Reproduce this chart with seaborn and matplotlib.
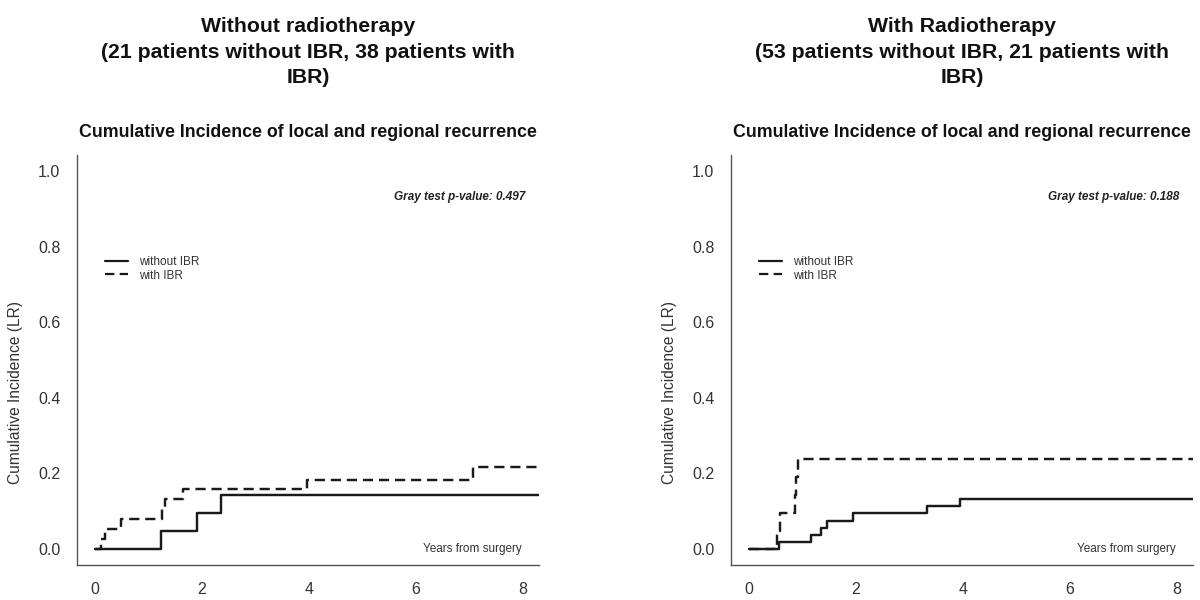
import pandas as pd
import matplotlib
matplotlib.use("Agg")
import matplotlib.pyplot as plt
import seaborn as sns

# step curves (time in years, cumulative incidence)
left_without_t = [0.0, 1.23, 1.90, 2.36, 8.31]
left_without_ci = [0.0, 0.0476, 0.0952, 0.1429, 0.1429]
left_with_t = [0.0, 0.12, 0.18, 0.49, 1.25, 1.31, 1.65, 3.96, 7.08, 8.31]
left_with_ci = [0.0, 0.026, 0.053, 0.079, 0.105, 0.132, 0.158, 0.184, 0.217, 0.217]

right_without_t = [0.0, 0.56, 1.16, 1.35, 1.46, 1.95, 3.33, 3.95, 8.31]
right_without_ci = [0.0, 0.019, 0.037, 0.056, 0.075, 0.095, 0.114, 0.133, 0.133]
right_with_t = [0.0, 0.53, 0.58, 0.86, 0.88, 0.92, 8.31]
right_with_ci = [0.0, 0.048, 0.095, 0.143, 0.19, 0.238, 0.238]

titles = ["Without radiotherapy\n(21 patients without IBR, 38 patients with\nIBR)",
          "With Radiotherapy\n(53 patients without IBR, 21 patients with\nIBR)"]
subtitle = "Cumulative Incidence of local and regional recurrence"
pvalues = ["0.497", "0.188"]
groups = ["without IBR", "with IBR"]

sns.set_style("white")
plt.rcParams['font.family'] = ['Liberation Sans', 'DejaVu Sans']

fig = plt.figure(figsize=(12, 6), dpi=100)
axes = [fig.add_axes([0.0642, 0.0583, 0.385, 0.6833]),
        fig.add_axes([0.6092, 0.0583, 0.385, 0.6833])]

panels = [
    (left_without_t, left_without_ci, left_with_t, left_with_ci),
    (right_without_t, right_without_ci, right_with_t, right_with_ci),
]

for i, ax in enumerate(axes):
    t0, c0, t1, c1 = panels[i]
    df = pd.concat([
        pd.DataFrame({"time": t0, "ci": c0, "group": groups[0]}),
        pd.DataFrame({"time": t1, "ci": c1, "group": groups[1]}),
    ])
    sns.lineplot(data=df, x="time", y="ci", style="group", style_order=groups,
                 dashes={groups[0]: "", groups[1]: (4.2, 2.4)},
                 color="#1a1a1a", linewidth=1.75, drawstyle="steps-post",
                 estimator=None, legend=True, ax=ax)

    ax.set_xlim(-0.337, 8.31)
    ax.set_ylim(-0.042, 1.042)
    ax.set_xticks([0, 2, 4, 6, 8])
    ax.set_yticks([0.0, 0.2, 0.4, 0.6, 0.8, 1.0])
    ax.set_yticklabels(["0.0", "0.2", "0.4", "0.6", "0.8", "1.0"])
    for s in ["top", "right"]:
        ax.spines[s].set_visible(False)
    for s in ["left", "bottom"]:
        ax.spines[s].set_color("#555555")
        ax.spines[s].set_linewidth(1.0)
    ax.tick_params(axis="both", direction="out", length=8, width=1.0,
                   color="#555555", labelcolor="#333333", labelsize=11.5)
    ax.tick_params(axis="x", pad=4)
    ax.tick_params(axis="y", pad=4)

    ax.set_xlabel("")
    ax.set_ylabel("Cumulative Incidence (LR)", fontsize=11.2, color="#333333")
    ax.yaxis.set_label_coords(-0.118, 0.42)

    leg = ax.legend(loc="upper left", bbox_to_anchor=(0.05, 0.765), frameon=False,
                    fontsize=8.5, handlelength=2.0, handletextpad=0.9,
                    labelspacing=0.12, borderaxespad=0)
    for txt in leg.get_texts():
        txt.set_color("#333333")
    for line in leg.get_lines():
        line.set_linewidth(1.6)

    ax.text(8.05, 0.93, "Gray test p-value: " + pvalues[i], ha="right", va="center",
            fontsize=8.5, fontweight="bold", fontstyle="italic", color="#222222")
    ax.text(7.98, 0.0, "Years from surgery", ha="right", va="center",
            fontsize=8.5, color="#333333")

    ax.text(0.5, 1.251, titles[i], transform=ax.transAxes, ha="center", va="center",
            fontsize=15.3, fontweight="bold", linespacing=1.42, color="#111111")
    ax.text(0.5, 1.054, subtitle, transform=ax.transAxes, ha="center", va="center",
            fontsize=12.8, fontweight="bold", color="#111111")

fig.savefig("out.png", dpi=100)
